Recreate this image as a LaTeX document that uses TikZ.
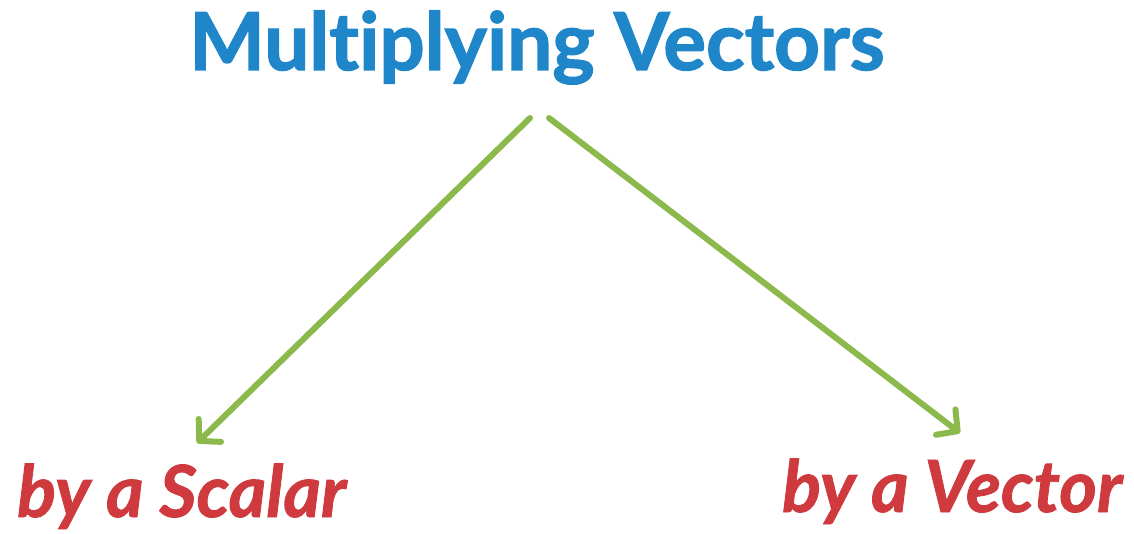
\documentclass[tikz,border=0pt]{standalone}
\usepackage{fontspec}
\newfontfamily\labfont{Lato}[Ligatures={NoCommon}, BoldFeatures={FakeBold=1.6}, BoldItalicFeatures={FakeBold=1.2}]
\usetikzlibrary{arrows.meta}
\definecolor{titleblue}{HTML}{1F87C9}
\definecolor{labred}{HTML}{CF3A3E}
\definecolor{arrgreen}{HTML}{8CB94B}
\tikzset{
  titletext/.style={font=\labfont\bfseries\fontsize{80}{84}\selectfont, text=titleblue, inner sep=0pt},
  labtext/.style={font=\labfont\bfseries\itshape\fontsize{72}{76}\selectfont, text=labred, inner sep=0pt},
  conn/.style={arrgreen, line width=6pt, line cap=round,
    -{Straight Barb[length=15pt, width=32pt, line width=6pt, round]}},
}
\begin{document}
\begin{tikzpicture}[x=1pt, y=-1pt]
\useasboundingbox (0,0) rectangle (1134,534);
\node[titletext, anchor=base] (title) at (537,70) {Multiplying Vectors};
\node[labtext, anchor=base west] (scalar) at (17,517) {by a Scalar};
\node[labtext, anchor=base west] (vector) at (782,512) {by a Vector};
\coordinate (ls) at (530,118);
\coordinate (rs) at (549,118);
\coordinate (le) at (197,443);
\coordinate (re) at (960,433);
\draw[conn] (ls) -- (le);
\draw[conn] (rs) -- (re);
\end{tikzpicture}
\end{document}
